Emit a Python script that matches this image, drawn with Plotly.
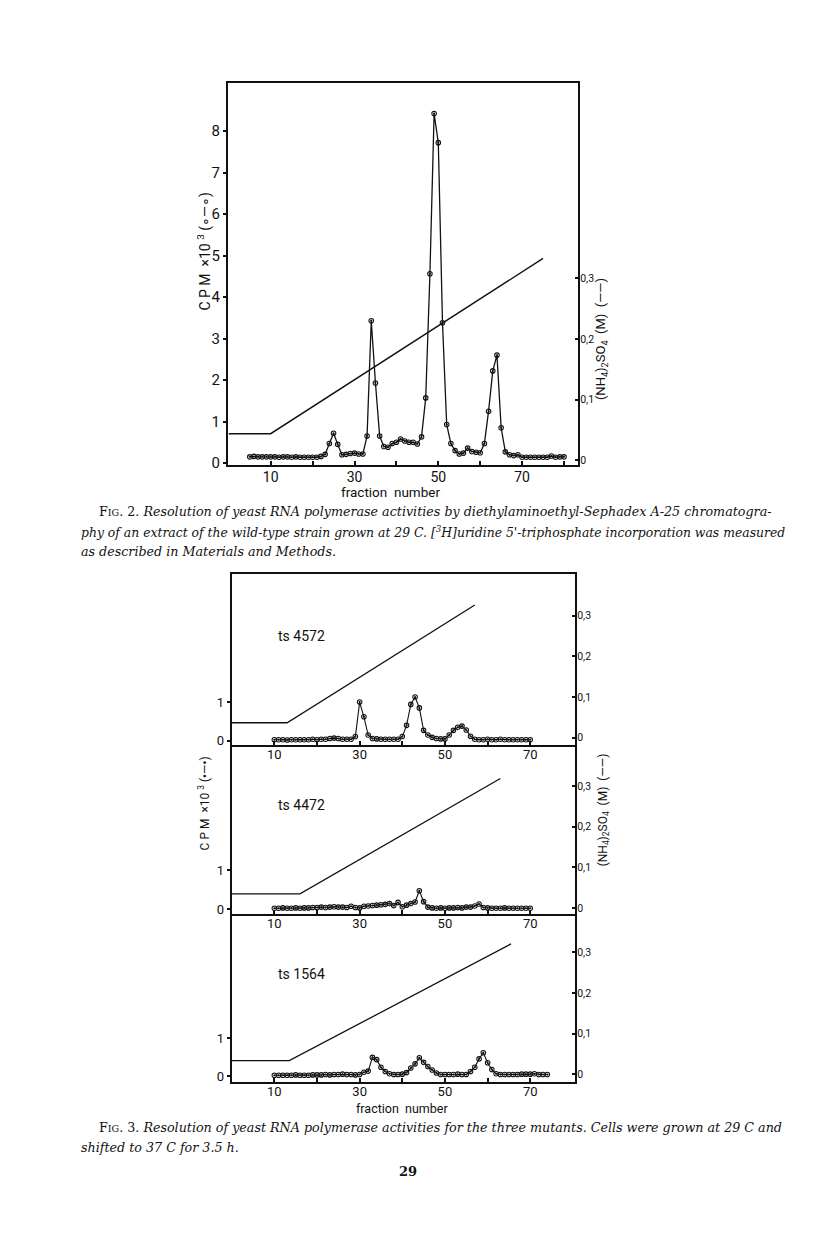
import plotly.graph_objects as go

# page geometry (browser body has an 8px margin)
PAGE_OFF = 8
FW, FH = 800, 1212

# ---------------- DATA ----------------
# Fig. 2 : wild type, fractions 5..80
fig2_fraction = list(range(5, 81))
fig2_cpm = [0.15, 0.16, 0.15, 0.15, 0.15, 0.15, 0.15, 0.14, 0.15, 0.15,
            0.14, 0.15, 0.14, 0.14, 0.14, 0.14, 0.14, 0.16, 0.21, 0.47,
            0.72, 0.45, 0.20, 0.21, 0.23, 0.24, 0.22, 0.22, 0.65, 3.43,
            1.93, 0.65, 0.40, 0.38, 0.47, 0.50, 0.58, 0.53, 0.50, 0.50,
            0.46, 0.63, 1.57, 4.56, 8.42, 7.72, 3.38, 0.93, 0.47, 0.30,
            0.22, 0.24, 0.36, 0.28, 0.26, 0.25, 0.47, 1.25, 2.22, 2.60,
            0.85, 0.27, 0.20, 0.18, 0.20, 0.14, 0.14, 0.14, 0.14, 0.14,
            0.14, 0.14, 0.17, 0.14, 0.15, 0.15]
fig2_grad_x = [0, 10, 75]
fig2_grad_m = [0.044, 0.044, 0.333]

# Fig. 3 : mutants
ts4572_fraction = list(range(10, 71))
ts4572_cpm = [0.03, 0.03, 0.03, 0.02, 0.03, 0.03, 0.03, 0.03, 0.03, 0.04,
              0.03, 0.04, 0.04, 0.06, 0.07, 0.06, 0.04, 0.04, 0.04, 0.11,
              1.00, 0.62, 0.15, 0.06, 0.05, 0.04, 0.04, 0.04, 0.04, 0.04,
              0.11, 0.40, 0.94, 1.13, 0.85, 0.27, 0.15, 0.09, 0.06, 0.05,
              0.05, 0.15, 0.27, 0.35, 0.38, 0.28, 0.12, 0.04, 0.03, 0.03,
              0.04, 0.03, 0.03, 0.04, 0.03, 0.03, 0.03, 0.03, 0.03, 0.03,
              0.03]
ts4572_grad_x = [0, 13, 57]
ts4572_grad_m = [0.037, 0.037, 0.326]

ts4472_fraction = list(range(10, 71))
ts4472_cpm = [0.02, 0.02, 0.03, 0.02, 0.02, 0.03, 0.02, 0.03, 0.03, 0.04,
              0.04, 0.05, 0.04, 0.05, 0.06, 0.05, 0.05, 0.04, 0.07, 0.04,
              0.03, 0.07, 0.08, 0.09, 0.10, 0.11, 0.12, 0.14, 0.09, 0.17,
              0.06, 0.10, 0.14, 0.18, 0.47, 0.19, 0.05, 0.03, 0.02, 0.03,
              0.02, 0.03, 0.03, 0.04, 0.03, 0.05, 0.05, 0.08, 0.13, 0.04,
              0.03, 0.02, 0.02, 0.02, 0.03, 0.02, 0.02, 0.02, 0.02, 0.02,
              0.02]
ts4472_grad_x = [0, 16, 63]
ts4472_grad_m = [0.035, 0.035, 0.318]

ts1564_fraction = list(range(10, 75))
ts1564_cpm = [0.03, 0.03, 0.03, 0.03, 0.03, 0.04, 0.03, 0.03, 0.03, 0.04,
              0.04, 0.04, 0.05, 0.04, 0.05, 0.05, 0.06, 0.05, 0.05, 0.04,
              0.05, 0.11, 0.14, 0.50, 0.44, 0.24, 0.13, 0.07, 0.05, 0.05,
              0.06, 0.10, 0.22, 0.33, 0.49, 0.37, 0.26, 0.17, 0.09, 0.05,
              0.05, 0.05, 0.05, 0.06, 0.05, 0.05, 0.13, 0.24, 0.46, 0.62,
              0.36, 0.18, 0.07, 0.05, 0.05, 0.05, 0.05, 0.05, 0.06, 0.06,
              0.06, 0.07, 0.05, 0.05, 0.05]
ts1564_grad_x = [0, 13.5, 65.5]
ts1564_grad_m = [0.034, 0.034, 0.32]

panel_names = ["ts 4572", "ts 4472", "ts 1564"]
x_labelled_ticks = [10, 30, 50, 70]
x_minor_ticks2 = [20, 40, 60, 80]
x_minor_ticks3 = [20, 40, 60]
cpm_tickvals2 = [0, 1, 2, 3, 4, 5, 6, 7, 8]
cpm_tickvals3 = [0, 1]
salt_tickvals = [0, 0.1, 0.2, 0.3]
salt_ticktext = ["0", "0,1", "0,2", "0,3"]

# ---------------- FIGURE ----------------
INK = "#111111"
TICKFONT = "Roboto"


def px(x):
    return (x - PAGE_OFF) / FW


def py(y):
    return 1 - (y - PAGE_OFF) / FH


fig = go.Figure()

marker = dict(symbol="circle-open-dot", size=4.5, color=INK, line=dict(width=1.1, color=INK))

# Fig 2 traces
fig.add_trace(go.Scatter(x=fig2_fraction, y=fig2_cpm, mode="lines+markers",
                         line=dict(color=INK, width=1.3), marker=marker,
                         xaxis="x", yaxis="y", showlegend=False))
fig.add_trace(go.Scatter(x=fig2_grad_x, y=fig2_grad_m, mode="lines",
                         line=dict(color=INK, width=1.4),
                         xaxis="x", yaxis="y2", showlegend=False))

panels = [
    (ts4572_fraction, ts4572_cpm, ts4572_grad_x, ts4572_grad_m),
    (ts4472_fraction, ts4472_cpm, ts4472_grad_x, ts4472_grad_m),
    (ts1564_fraction, ts1564_cpm, ts1564_grad_x, ts1564_grad_m),
]
for i, (fx, fy, gx, gy) in enumerate(panels):
    xa = "x%d" % (i + 2)
    ya = "y%d" % (2 * i + 3)
    yb = "y%d" % (2 * i + 4)
    fig.add_trace(go.Scatter(x=fx, y=fy, mode="lines+markers",
                             line=dict(color=INK, width=1.1), marker=marker,
                             xaxis=xa, yaxis=ya, showlegend=False))
    fig.add_trace(go.Scatter(x=gx, y=gy, mode="lines",
                             line=dict(color=INK, width=1.3),
                             xaxis=xa, yaxis=yb, showlegend=False))

axis_common = dict(showgrid=False, zeroline=False, showline=True, linecolor=INK,
                   linewidth=2.2, ticks="inside", ticklen=4, tickwidth=2,
                   tickcolor=INK, mirror=True)

layout = dict(width=FW, height=FH, margin=dict(l=0, r=0, t=0, b=0),
              paper_bgcolor="white", plot_bgcolor="white", showlegend=False)

# Fig 2 axes
layout["xaxis"] = dict(axis_common, domain=[px(228), px(578)], range=[-0.19, 83.34],
                       anchor="y", tickvals=x_labelled_ticks, ticklabelstandoff=-2,
                       minor=dict(tickvals=x_minor_ticks2, ticks="inside", ticklen=4,
                                  tickwidth=2, tickcolor=INK, showgrid=False),
                       tickfont=dict(family=TICKFONT, size=14, color=INK))
layout["yaxis"] = dict(axis_common, domain=[py(468), py(83)], range=[-0.055, 9.167],
                       anchor="x", tickvals=cpm_tickvals2, ticks="outside", ticklen=3,
                       tickfont=dict(family=TICKFONT, size=15, color=INK))
layout["yaxis2"] = dict(axis_common, overlaying="y", side="right", anchor="x",
                        range=[-0.0082, 0.623], tickvals=salt_tickvals,
                        ticktext=salt_ticktext, mirror=False, ticklen=3,
                        ticklabelstandoff=-2,
                        tickfont=dict(family=TICKFONT, size=10.5, color=INK))

# Fig 3 axes
bounds = [(577, 749), (749, 919), (919, 1088)]
left_ranges = [[-0.10, 4.31], [-0.12, 4.21], [-0.14, 4.27]]
right_ranges = [[-0.017, 0.403], [-0.014, 0.401], [-0.018, 0.394]]
for i in range(3):
    top, bot = bounds[i]
    xn = "xaxis%d" % (i + 2)
    yn = "yaxis%d" % (2 * i + 3)
    yr = "yaxis%d" % (2 * i + 4)
    xs = "x%d" % (i + 2)
    ys = "y%d" % (2 * i + 3)
    layout[xn] = dict(axis_common, domain=[px(231.7), px(575)], range=[0, 80.5],
                      anchor=ys, tickvals=x_labelled_ticks, ticklabelstandoff=-3,
                      minor=dict(tickvals=x_minor_ticks3, ticks="inside", ticklen=4,
                                 tickwidth=2, tickcolor=INK, showgrid=False),
                      mirror=(i == 0),
                      tickfont=dict(family=TICKFONT, size=13, color=INK))
    layout[yn] = dict(axis_common, domain=[py(bot), py(top)], range=left_ranges[i],
                      anchor=xs, tickvals=cpm_tickvals3, ticks="outside", ticklen=3,
                      mirror=False,
                      tickfont=dict(family=TICKFONT, size=13, color=INK))
    layout[yr] = dict(axis_common, overlaying=ys, side="right", anchor=xs,
                      range=right_ranges[i], tickvals=salt_tickvals,
                      ticktext=salt_ticktext, mirror=False, ticklen=3,
                      ticklabelstandoff=-2,
                      tickfont=dict(family=TICKFONT, size=10.5, color=INK))

fig.update_layout(**layout)


def note(text, x, y, size, family=TICKFONT, angle=0, xanchor="center",
         yanchor="middle", style="normal", weight="normal"):
    fig.add_annotation(text=text, x=px(x), y=py(y), xref="paper", yref="paper",
                       showarrow=False, textangle=angle, xanchor=xanchor,
                       yanchor=yanchor,
                       font=dict(family=family, size=size, color=INK,
                                 style=style, weight=weight))


# axis titles Fig 2
note("C P M  ×10 <sup>3</sup> (∘—∘)", 205, 253, 14, angle=-90)
note("(NH<sub>4</sub>)<sub>2</sub>SO<sub>4</sub>  (M)  (——)", 601, 341, 13, angle=-90)
note("fraction  number", 390, 495, 13.5)

# axis titles Fig 3
note("C P M  ×10 <sup>3</sup> (•—•)", 204, 808, 12, angle=-90)
note("(NH<sub>4</sub>)<sub>2</sub>SO<sub>4</sub>  (M)  (——)", 604, 815, 12, angle=-90)
note("fraction  number", 402, 1115, 12.5)

for name, yc in zip(panel_names, [640, 810, 980]):
    note(name, 276, yc, 14, xanchor="left")

# captions
SERIF = "DejaVu Serif"
cap = 12.7
note("F<span style='font-size:9.5px'>IG</span>. 2. <i>Resolution of yeast RNA polymerase activities by diethylaminoethyl-Sephadex A-25 chromatogra-</i>",
     97, 514, cap, family=SERIF, xanchor="left")
note("<i>phy of an extract of the wild-type strain grown at 29 C. [<sup>3</sup>H]uridine 5'-triphosphate incorporation was measured</i>",
     79, 535, 12.4, family=SERIF, xanchor="left")
note("<i>as described in Materials and Methods.</i>",
     79, 555, cap, family=SERIF, xanchor="left")
note("F<span style='font-size:9.5px'>IG</span>. 3. <i>Resolution of yeast RNA polymerase activities for the three mutants. Cells were grown at 29 C and</i>",
     97, 1134, cap, family=SERIF, xanchor="left")
note("<i>shifted to 37 C for 3.5 h.</i>",
     79, 1154, cap, family=SERIF, xanchor="left")
note("<b>29</b>", 408, 1178, 13, family=SERIF)

fig.write_html("out.html")
